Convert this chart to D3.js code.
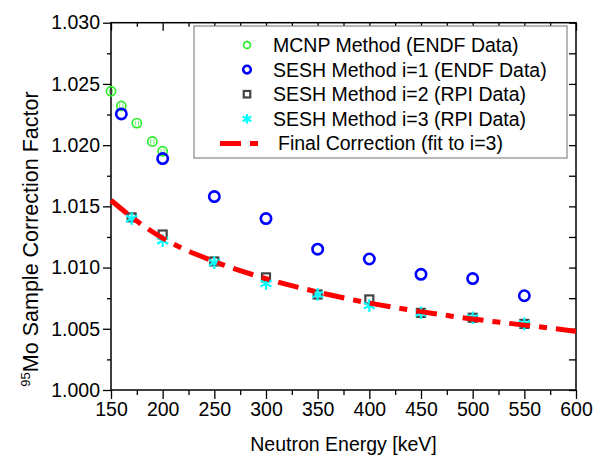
<!DOCTYPE html>
<html>
<head>
<meta charset="utf-8">
<script src="https://cdn.jsdelivr.net/npm/d3@7"></script>
<style>
  body { margin: 0; background: #fff; }
  svg { display: block; font-family: "Liberation Sans", Arial, sans-serif; }
</style>
</head>
<body>
<div id="chart"></div>
<script>
// Data
const mcnpEnergy = [150, 160, 175, 190, 200];
const mcnpFactor = [1.0244, 1.0232, 1.0218, 1.0203, 1.0195];

const sesh1Energy = [160, 200, 250, 300, 350, 400, 450, 500, 550];
const sesh1Factor = [1.02255, 1.0189, 1.0158, 1.0140, 1.0115, 1.0107, 1.00945, 1.0091, 1.0077];

const sesh2Energy = [170, 200, 250, 300, 350, 400, 450, 500, 550];
const sesh2Factor = [1.0141, 1.0127, 1.0105, 1.0092, 1.0078, 1.0074, 1.0063, 1.0059, 1.0054];

const sesh3Energy = [170, 200, 250, 300, 350, 400, 450, 500, 550];
const sesh3Factor = [1.0140, 1.0122, 1.0104, 1.0087, 1.0078, 1.0069, 1.0063, 1.0059, 1.0054];

const fitEnergy = [150, 175, 200, 250, 300, 350, 400, 450, 500, 550, 600];
const fitFactor = [1.0155, 1.0138, 1.0124, 1.0105, 1.0091, 1.0080, 1.0071, 1.0064, 1.0058, 1.0053, 1.0048];

const xTicks = [150, 200, 250, 300, 350, 400, 450, 500, 550, 600];
const yTicks = [1.000, 1.005, 1.010, 1.015, 1.020, 1.025, 1.030];

const legendLabels = [
  "MCNP Method (ENDF Data)",
  "SESH Method i=1 (ENDF Data)",
  "SESH Method i=2 (RPI Data)",
  "SESH Method i=3 (RPI Data)",
  "Final Correction (fit to i=3)"
];

/* SETUP */
let width = 604, height = 455;
let plotLeft = 111, plotRight = 576, plotTop = 22.7, plotBottom = 390;

let svg = d3.select("#chart").append("svg")
  .attr("width", width)
  .attr("height", height);

let x = d3.scaleLinear().domain([150, 600]).range([plotLeft, plotRight]);
let y = d3.scaleLinear().domain([1.0, 1.03]).range([plotBottom, plotTop]);

let zip = (a, b) => a.map((v, i) => ({ e: v, f: b[i] }));

// colours
let green = "#22ee22", blue = "#0000ff", grey = "#444444", cyan = "#00ffff", red = "#ff0000";

/* AXES */
let xMinor = d3.range(175, 600, 50);
let yMinor = d3.range(1.0025, 1.03, 0.005);

// bottom axis (outward ticks)
let gB = svg.append("g").attr("transform", `translate(0,${plotBottom})`);
gB.call(d3.axisBottom(x).tickValues(xTicks).tickSize(9).tickPadding(3).tickFormat(d3.format("d")));
gB.append("g").call(d3.axisBottom(x).tickValues(xMinor).tickSize(5).tickFormat(""));

// top axis (inward ticks)
let gT = svg.append("g").attr("transform", `translate(0,${plotTop})`);
gT.call(d3.axisBottom(x).tickValues(xTicks).tickSize(8).tickFormat(""));
gT.append("g").call(d3.axisBottom(x).tickValues(xMinor).tickSize(4).tickFormat(""));

// left axis (outward ticks)
let gL = svg.append("g").attr("transform", `translate(${plotLeft},0)`);
gL.call(d3.axisLeft(y).tickValues(yTicks).tickSize(8).tickPadding(3).tickFormat(d3.format(".3f")));
gL.append("g").call(d3.axisLeft(y).tickValues(yMinor).tickSize(4).tickFormat(""));

// right axis (inward ticks)
let gR = svg.append("g").attr("transform", `translate(${plotRight},0)`);
gR.call(d3.axisLeft(y).tickValues(yTicks.concat(yMinor)).tickSize(7).tickFormat(""));

svg.selectAll(".domain").remove();
svg.selectAll(".tick line").attr("stroke", "#000").attr("stroke-width", 1.3);
svg.selectAll(".tick text").attr("font-size", "19.5px").attr("fill", "#000")
  .attr("font-family", "'Liberation Sans', Arial, sans-serif");

// frame
svg.append("rect")
  .attr("x", plotLeft).attr("y", plotTop)
  .attr("width", plotRight - plotLeft).attr("height", plotBottom - plotTop)
  .attr("fill", "none").attr("stroke", "#000").attr("stroke-width", 1.5);

// axis titles
svg.append("text")
  .attr("x", (plotLeft + plotRight) / 2).attr("y", 451)
  .attr("text-anchor", "middle").attr("font-size", "19.5px")
  .text("Neutron Energy [keV]");

let yTitle = svg.append("text")
  .attr("transform", "translate(38,239) rotate(-90)")
  .attr("text-anchor", "middle").attr("font-size", "21.5px");
yTitle.append("tspan").attr("font-size", "13px").attr("dy", "-8").text("95");
yTitle.append("tspan").attr("dy", "8").text("Mo Sample Correction Factor");

/* MARKERS */
function greenCircle(g, r, hatch) {
  g.append("circle").attr("r", r).attr("fill", "none").attr("stroke", green).attr("stroke-width", 1.6);
  if (hatch) {
    [-1.6, 1.6].forEach(dx => g.append("line")
      .attr("x1", dx).attr("x2", dx).attr("y1", -r * 0.5).attr("y2", r * 0.5)
      .attr("stroke", green).attr("stroke-width", 0.7));
  }
}
function blueCircle(g, r) {
  g.append("circle").attr("r", r).attr("fill", "none").attr("stroke", blue).attr("stroke-width", 2.6);
}
function greySquare(g, s) {
  g.append("rect").attr("x", -s / 2).attr("y", -s / 2).attr("width", s).attr("height", s)
    .attr("fill", "none").attr("stroke", grey).attr("stroke-width", 2.2);
}
function cyanStar(g, s) {
  [[0, -s, 0, s], [-s * 0.87, -s * 0.5, s * 0.87, s * 0.5], [-s * 0.87, s * 0.5, s * 0.87, -s * 0.5]]
    .forEach(p => g.append("line")
      .attr("x1", p[0]).attr("y1", p[1]).attr("x2", p[2]).attr("y2", p[3])
      .attr("stroke", cyan).attr("stroke-width", 2.2));
}

function drawSeries(data, drawer, size, opt) {
  svg.append("g").selectAll("g")
    .data(data)
    .join("g")
    .attr("transform", d => `translate(${x(d.e)},${y(d.f)})`)
    .each(function () { drawer(d3.select(this), size, opt); });
}

drawSeries(zip(mcnpEnergy, mcnpFactor), greenCircle, 4.6, true);
drawSeries(zip(sesh1Energy, sesh1Factor), blueCircle, 5.2);
drawSeries(zip(sesh2Energy, sesh2Factor), greySquare, 8);
drawSeries(zip(sesh3Energy, sesh3Factor), cyanStar, 6.3);

// fit curve
let line = d3.line().x(d => x(d.e)).y(d => y(d.f)).curve(d3.curveMonotoneX);
svg.append("path")
  .datum(zip(fitEnergy, fitFactor))
  .attr("d", line)
  .attr("fill", "none").attr("stroke", red).attr("stroke-width", 5)
  .attr("stroke-dasharray", "21,9,8,9");

/* LEGEND */
svg.append("rect")
  .attr("x", 194).attr("y", 26).attr("width", 373).attr("height", 132)
  .attr("fill", "#fff").attr("stroke", "#888").attr("stroke-width", 1.2);

let legendRows = svg.append("g").selectAll("g")
  .data(legendLabels)
  .join("g")
  .attr("transform", (d, i) => `translate(0,${45 + i * 24.6})`);

legendRows.append("text")
  .attr("x", (d, i) => i === 4 ? 278 : 273)
  .attr("y", 7)
  .attr("font-size", "19.5px")
  .text(d => d);

let sx = 247;
greenCircle(svg.append("g").attr("transform", `translate(${sx},45)`), 3.4, false);
blueCircle(svg.append("g").attr("transform", `translate(${sx},${45 + 24.6})`), 3.8);
greySquare(svg.append("g").attr("transform", `translate(${sx},${45 + 2 * 24.6})`), 6.5);
cyanStar(svg.append("g").attr("transform", `translate(${sx},${45 + 3 * 24.6})`), 4.8);
svg.append("line")
  .attr("x1", 220).attr("x2", 259).attr("y1", 45 + 4 * 24.6).attr("y2", 45 + 4 * 24.6)
  .attr("stroke", red).attr("stroke-width", 5).attr("stroke-dasharray", "21,9,8,9");
</script>
</body>
</html>
